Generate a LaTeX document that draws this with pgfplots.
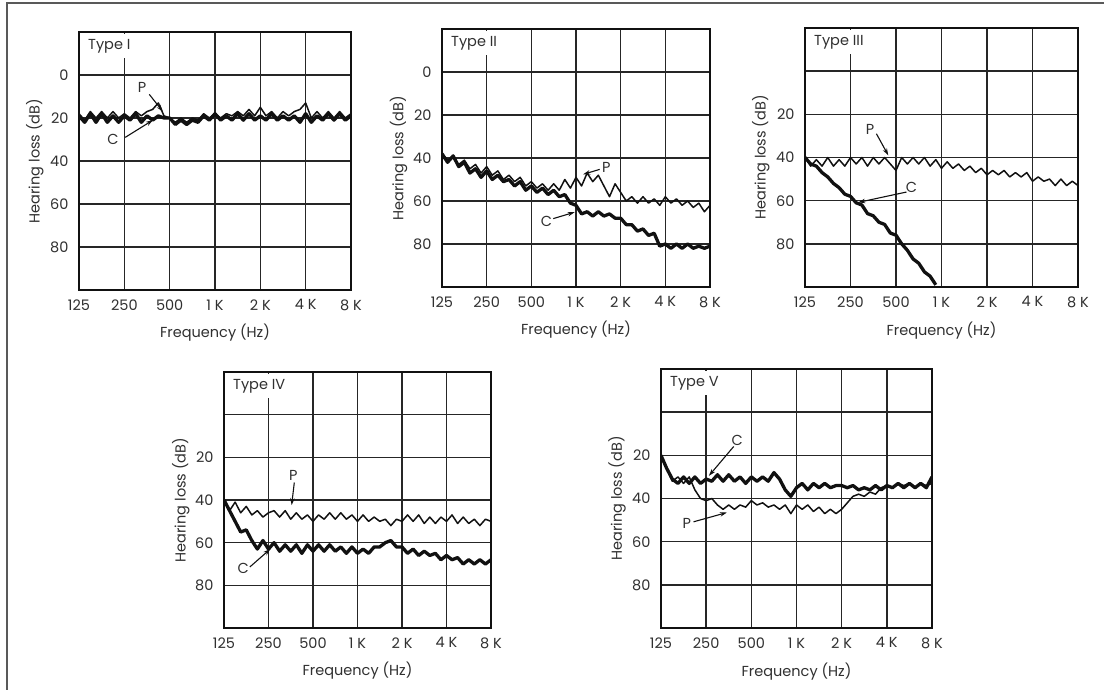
\documentclass[border=0pt]{standalone}
\usepackage{fontspec}
\setmainfont{Poppins}
\usepackage{pgfplots}
\pgfplotsset{compat=1.18}
\usepackage{pgfplotstable}
\usetikzlibrary{arrows.meta}

\definecolor{ink}{HTML}{111111}
\definecolor{gridc}{HTML}{262626}
\definecolor{txt}{HTML}{303030}

% x = octaves above 125 Hz, y = hearing loss in dB
\pgfplotstableread{
x C P
0 19 18
0.125 22 21
0.25 18 17
0.375 22 20
0.5 18 17
0.625 22 20
0.75 19 17
0.875 22 20
1 19 18
1.125 21 20
1.25 18 17
1.375 22 19
1.5 19 17
1.625 21 16
1.75 19 13
1.875 20 19
2 20 20
2.125 23 22
2.25 21 20
2.375 23 22
2.5 21 20
2.625 22 21
2.75 19 18
2.875 21 20
3 18 18
3.125 21 20
3.25 19 18
3.375 21 19
3.5 18 17
3.625 21 19
3.75 18 16
3.875 21 19
4 19 15
4.125 21 19
4.25 18 17
4.375 21 20
4.5 19 17
4.625 21 19
4.75 19 17
4.875 22 16
5 18 13
5.125 22 20
5.25 19 17
5.375 21 20
5.5 18 17
5.625 21 20
5.75 18 17
5.875 21 20
6 19 18
}\typeone

\pgfplotstableread{
x C P
0 38 38
0.125 42 41
0.25 39 40
0.375 44 43
0.5 42 41
0.625 47 45
0.75 45 43
0.875 49 47
1 46 44
1.125 50 48
1.25 48 46
1.375 51 50
1.5 50 48
1.625 53 51
1.75 51 49
1.875 55 53
2 53 51
2.125 56 54
2.25 54 52
2.375 57 55
2.5 55 52
2.625 58 55
2.75 57 50
2.875 61 54
3 62 49
3.125 66 53
3.25 65 47
3.375 67 51
3.5 65 48
3.625 67 53
3.75 66 58
3.875 68 52
4 68 56
4.125 71 60
4.25 71 58
4.375 74 61
4.5 73 58
4.625 76 61
4.75 75 59
4.875 81 62
5 80 58
5.125 82 61
5.25 80 59
5.375 82 62
5.5 80 60
5.625 82 63
5.75 81 61
5.875 82 65
6 81 62
}\typetwo

\pgfplotstableread{
x C P
0 40 40
0.125 43 44
0.25 44 41
0.375 47 44
0.5 49 40
0.625 52 44
0.75 54 41
0.875 57 44
1 58 40
1.125 61 43
1.25 62 40
1.375 66 44
1.5 67 40
1.625 70 43
1.75 71 40
1.875 75 43
2 76 46
2.125 80 40
2.25 83 43
2.375 87 40
2.5 89 43
2.625 93 40
2.75 95 44
2.875 99 41
3 nan 45
3.125 nan 42
3.25 nan 45
3.375 nan 43
3.5 nan 46
3.625 nan 44
3.75 nan 47
3.875 nan 45
4 nan 48
4.125 nan 46
4.25 nan 48
4.375 nan 46
4.5 nan 49
4.625 nan 47
4.75 nan 49
4.875 nan 47
5 nan 51
5.125 nan 49
5.25 nan 51
5.375 nan 50
5.5 nan 53
5.625 nan 50
5.75 nan 53
5.875 nan 51
6 nan 53
}\typethree

\pgfplotstableread{
x C P
0 40 40
0.125 45 45
0.25 50 41
0.375 55 46
0.5 54 43
0.625 59 47
0.75 63 45
0.875 59 48
1 63 46
1.125 60 45
1.25 64 48
1.375 61 45
1.5 64 49
1.625 61 46
1.75 65 49
1.875 61 47
2 64 50
2.125 61 47
2.25 64 49
2.375 61 46
2.5 64 49
2.625 62 46
2.75 65 49
2.875 62 47
3 65 50
3.125 63 47
3.25 65 50
3.375 62 48
3.5 62 50
3.625 60 49
3.75 59 52
3.875 62 49
4 62 50
4.125 65 47
4.25 63 50
4.375 66 47
4.5 64 51
4.625 66 48
4.75 65 51
4.875 68 48
5 66 50
5.125 68 47
5.25 67 51
5.375 70 48
5.5 68 51
5.625 70 49
5.75 68 52
5.875 70 49
6 68 50
}\typefour

\pgfplotstableread{
x C P
0 20 20
0.125 26 26
0.25 31 32
0.375 33 30
0.5 30 33
0.625 33 30
0.75 30 36
0.875 33 40
1 31 41
1.125 32 40
1.25 29 43
1.375 32 45
1.5 29 43
1.625 32 45
1.75 30 43
1.875 33 44
2 30 41
2.125 32 43
2.25 30 42
2.375 32 44
2.5 28 43
2.625 31 45
2.75 36 43
2.875 39 47
3 35 43
3.125 33 45
3.25 36 43
3.375 33 46
3.5 35 44
3.625 33 47
3.75 35 45
3.875 34 47
4 34 45
4.125 35 42
4.25 34 39
4.375 36 38
4.5 35 39
4.625 36 37
4.75 34 38
4.875 36 35
5 34 34
5.125 35 35
5.25 33 33
5.375 35 34
5.5 33 33
5.625 35 35
5.75 33 33
5.875 35 34
6 30 33
}\typefive

\pgfplotsset{
  panel/.style={
    scale only axis, width=270pt, height=258pt,
    xmin=0, xmax=6, ymin=-20, ymax=100, y dir=reverse,
    xtick={0,...,6}, xticklabels={125,250,500,1 K,2 K,4 K,8 K},
    ytick={-20,0,...,100},
    yticklabels={,0,20,40,60,80,},
    grid=major, major grid style={line width=1.5pt, draw=gridc},
    axis line style={line width=2.2pt, draw=ink},
    major tick length=0pt,
    tick label style={font=\fontsize{14.5}{16}\selectfont, text=txt},
    xticklabel style={yshift=-6pt},
    yticklabel style={xshift=-7pt},
    label style={font=\fontsize{14.5}{16}\selectfont, text=txt},
    xlabel={Frequency (Hz)}, ylabel={Hearing loss (dB)},
    xlabel style={at={(axis description cs:0.5,-0.167)}, anchor=center},
    ylabel style={at={(axis description cs:-0.162,0.5)}, anchor=center},
  },
  nozero/.style={yticklabels={,,20,40,60,80,}},
  cline/.style={draw=ink, line width=3.3pt, line join=round},
  pline/.style={draw=ink, line width=1.5pt, line join=round},
}
\tikzset{
  ttl/.style={anchor=north west, fill=white, inner xsep=7pt, inner ysep=0pt,
    minimum height=24pt, font=\fontsize{14.5}{16}\selectfont, text=txt},
  lab/.style={font=\fontsize{14.5}{16}\selectfont, text=txt, inner sep=1pt},
  arr/.style={draw=ink, line width=1.1pt, -{Stealth[length=7pt,width=4.5pt]}},
}

\begin{document}
\begin{tikzpicture}
\useasboundingbox (0pt,0pt) rectangle (1104pt,-690pt);
\fill[white] (0pt,0pt) rectangle (1104pt,-690pt);
\draw[line width=1.5pt, draw=gray!70!black] (7pt,-690pt) -- (7pt,-3pt) -- (1104pt,-3pt);

% Type I
\begin{axis}[panel, at={(79pt,-32pt)}, anchor=north west, width=272pt]
\addplot[pline] table[x=x,y=P] {\typeone};
\addplot[cline] table[x=x,y=C] {\typeone};
\node[ttl] at ([xshift=2pt,yshift=-2pt]axis cs:0,-20) {Type I};
\node[lab] at (axis cs:1.39,6) {P};
\draw[arr] (axis cs:1.55,9) -- (axis cs:1.85,17);
\node[lab] at (axis cs:0.75,30) {C};
\draw[arr] (axis cs:1.02,29) -- (axis cs:1.63,21);
\end{axis}

% Type II
\begin{axis}[panel, at={(442pt,-29pt)}, anchor=north west, width=268pt]
\addplot[pline] table[x=x,y=P] {\typetwo};
\addplot[cline] table[x=x,y=C] {\typetwo};
\node[ttl] at ([xshift=2pt,yshift=-2pt]axis cs:0,-20) {Type II};
\node[lab] at (axis cs:3.68,44.6) {P};
\draw[arr] (axis cs:3.53,45.3) -- (axis cs:3.16,47.6);
\node[lab] at (axis cs:2.34,69.5) {C};
\draw[arr] (axis cs:2.49,68.2) -- (axis cs:2.97,65.2);
\end{axis}

% Type III
\begin{axis}[panel, nozero, at={(805pt,-28pt)}, anchor=north west, width=273pt, height=259pt]
\addplot[pline] table[x=x,y=P] {\typethree};
\addplot[cline] table[x=x,y=C] {\typethree};
\node[ttl] at ([xshift=2pt,yshift=-2pt]axis cs:0,-20) {Type III};
\node[lab] at (axis cs:1.43,27) {P};
\draw[arr] (axis cs:1.57,29) -- (axis cs:1.83,39);
\node[lab] at (axis cs:2.34,54) {C};
\draw[arr] (axis cs:2.23,56) -- (axis cs:1.17,60.8);
\end{axis}

% Type IV
\begin{axis}[panel, nozero, at={(224pt,-372pt)}, anchor=north west, width=267pt, height=256pt]
\addplot[pline] table[x=x,y=P] {\typefour};
\addplot[cline] table[x=x,y=C] {\typefour};
\node[ttl] at ([xshift=2pt,yshift=-2pt]axis cs:0,-20) {Type IV};
\node[lab] at (axis cs:1.56,28.7) {P};
\draw[arr] (axis cs:1.58,31.8) -- (axis cs:1.52,42.4);
\node[lab] at (axis cs:0.43,72.2) {C};
\draw[arr] (axis cs:0.58,71.4) -- (axis cs:1.04,63);
\end{axis}

% Type V
\begin{axis}[panel, nozero, at={(661pt,-369pt)}, anchor=north west, width=271pt, height=259pt]
\addplot[pline] table[x=x,y=P] {\typefive};
\addplot[cline] table[x=x,y=C] {\typefive};
\node[ttl] at ([xshift=2pt,yshift=-2pt]axis cs:0,-20) {Type V};
\node[lab] at (axis cs:1.69,12.9) {C};
\draw[arr] (axis cs:1.61,15.9) -- (axis cs:1.06,29.5);
\node[lab] at (axis cs:0.57,51.5) {P};
\draw[arr] (axis cs:0.72,50.8) -- (axis cs:1.46,46.5);
\end{axis}
\end{tikzpicture}
\end{document}
